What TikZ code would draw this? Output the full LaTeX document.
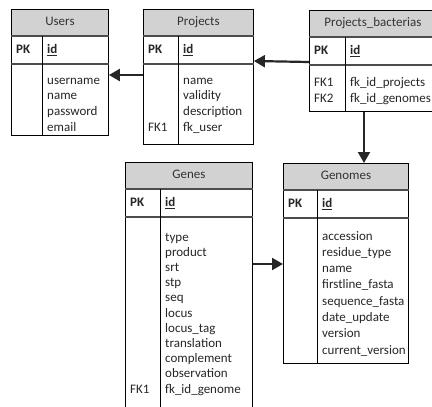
\documentclass[tikz,border=0pt]{standalone}
\usepackage{fontspec}
\setmainfont{Carlito}
\usetikzlibrary{arrows.meta}
\usetikzlibrary{calc}
\tikzset{
    tablebox/.style={draw=black, line width=0.9pt, inner sep=0pt, anchor=north west},
    tabletitle/.style={tablebox, fill=gray!35, minimum height=27pt, text=black!80, text height=9pt, text depth=3pt, font=\fontsize{13}{15}\selectfont},
    sepline/.style={draw=black!70, line width=1.6pt},
    keytext/.style={anchor=west, inner sep=0pt, text height=9pt, text depth=3pt, text=black!85, font=\fontsize{13}{15}\selectfont},
    fieldtext/.style={keytext},
    fkarrow/.style={line width=2.2pt, draw=black!85, -{Triangle[length=11pt, width=12pt]}}
}
\newcommand{\drawtable}[7]{
    \begin{scope}[shift={(#2,-#3)}]
        \node [tabletitle, minimum width=#4] (#1-title) at (0,0) {#7};
        \node [tablebox, minimum width=#4, minimum height=27pt] (#1-pk) at (0,-27) {};
        \node [tablebox, minimum width=#4, minimum height=#6-54] (#1-body) at (0,-54) {};
        \draw [sepline] (#1-pk.north west) -- (#1-pk.north east);
        \draw [sepline] (#1-pk.south west) -- (#1-pk.south east);
        \draw [line width=0.9pt] (#5,-27) -- (#5,-#6);
        \coordinate (#1-div) at (#5,-54);
        \node [keytext] (#1-pkkey) at (5,-41.5) {\textbf{PK}};
        \node [fieldtext] (#1-pkid) at (#5+5,-41.5) {\underline{\textbf{id}}};
    \end{scope}
}
\newcommand{\drawfields}[4]{
    \foreach \k/\f [count=\i] in {#4} {
        \node [keytext] (#1-key\i) at ($(#1-body.north west)+(5,{-#2-(\i-1)*#3})$) {\k};
        \node [fieldtext] (#1-field\i) at ($(#1-div)+(5,{-#2-(\i-1)*#3})$) {\f};
    }
}

\begin{document}
\begin{tikzpicture}[x=1pt, y=1pt]
    \clip (0,0) rectangle (432,-407);
    % tables
    \drawtable{users}{11}{9}{97}{31}{126}{Users};
    \drawfields{users}{18}{15.8}{/username, /name, /password, /email};
    \drawtable{proj}{143}{9}{110}{35}{135}{Projects};
    \drawfields{proj}{18}{15.8}{/name, /validity, /description, FK1/fk\_user};
    \drawtable{pb}{309}{10}{127}{36}{101}{Projects\_bacterias};
    \drawfields{pb}{19}{16}{FK1/fk\_id\_projects, FK2/fk\_id\_genomes};
    \drawtable{genes}{125}{162}{127}{35}{258}{Genes};
    \drawfields{genes}{22}{15.2}{/type, /product, /srt, /stp, /seq, /locus, /locus\_tag, /translation, /complement, /observation, FK1/fk\_id\_genome};
    \drawtable{genomes}{283}{163}{125}{34}{200}{Genomes};
    \drawfields{genomes}{20}{16.3}{/accession, /residue\_type, /name, /firstline\_fasta, /sequence\_fasta, /date\_update, /version, /current\_version};
    % foreign keys
    \draw [fkarrow] ([yshift=2]pb-body.north west) -- ([yshift=2]proj-body.north east);
    \draw [fkarrow] ([yshift=-12]proj-body.north west) -- ([yshift=-12]users-body.north east);
    \draw [fkarrow] ([xshift=55]pb-body.south west) -- ([xshift=55]pb-body.south west |- genomes-title.north);
    \draw [fkarrow] ([yshift=-48]genes-body.north east) -- ([yshift=-48]genes-body.north east -| genomes-body.west);
\end{tikzpicture}
\end{document}
